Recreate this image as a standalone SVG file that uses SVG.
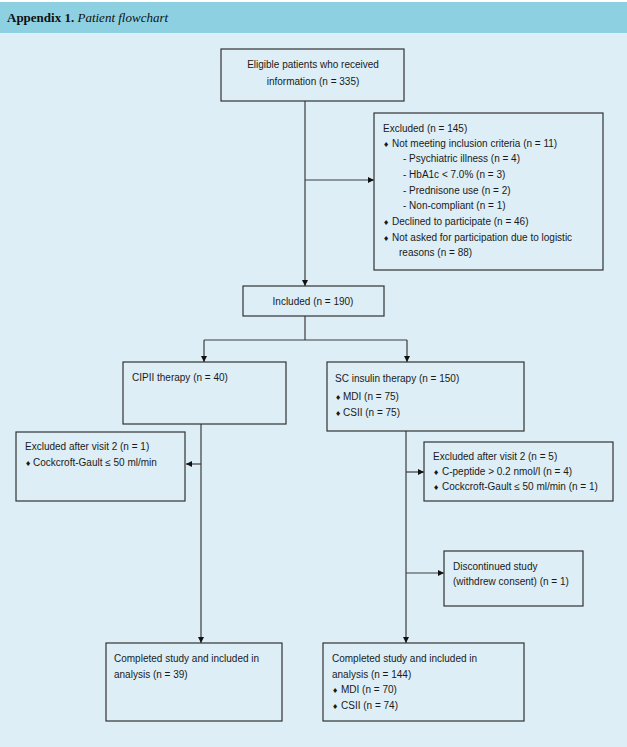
<svg xmlns="http://www.w3.org/2000/svg" width="627" height="747" viewBox="0 0 627 747">
<defs>
<style>
.box{fill:none;stroke:#333;stroke-width:1.2}
.t{font-family:"Liberation Sans",Arial,sans-serif;font-size:10px;fill:#1a1a1a}
.c{text-anchor:middle}
.b{font-family:"DejaVu Sans",sans-serif;font-size:7px}
.ln{fill:none;stroke:#3c3c3c;stroke-width:1.2}
</style>
<marker id="ah" markerWidth="6" markerHeight="6" refX="6" refY="3" orient="auto" markerUnits="userSpaceOnUse">
<path d="M0,0 L6,3 L0,6 Z" fill="#111"/>
</marker>
</defs>
<rect x="0" y="0" width="627" height="747" fill="#ddeef6"/>
<rect x="0" y="0" width="627" height="2" fill="#ffffff"/>
<rect x="0" y="2" width="627" height="31" fill="#8dd0e1"/>
<text x="7" y="22" font-family="Liberation Serif,serif" font-size="13" fill="#111"><tspan font-weight="bold">Appendix 1.</tspan> <tspan font-style="italic">Patient flowchart</tspan></text>

<g id="connectors">
<path class="ln" d="M305,101 V286" marker-end="url(#ah)"/>
<path class="ln" d="M305,180 H374" marker-end="url(#ah)"/>
<path class="ln" d="M305,316 V340 M204,340 H407"/>
<path class="ln" d="M204,340 V362" marker-end="url(#ah)"/>
<path class="ln" d="M407,340 V362" marker-end="url(#ah)"/>
<path class="ln" d="M201,424 V643" marker-end="url(#ah)"/>
<path class="ln" d="M201,464 H186" marker-end="url(#ah)"/>
<path class="ln" d="M406,431 V643" marker-end="url(#ah)"/>
<path class="ln" d="M406,472 H424" marker-end="url(#ah)"/>
<path class="ln" d="M406,573 H444" marker-end="url(#ah)"/>
</g>

<g id="eligible">
<rect class="box" x="221" y="49" width="183" height="52"/>
<text class="t c" x="313" y="68">Eligible patients who received</text>
<text class="t c" x="313" y="85">information (n = 335)</text>
</g>

<g id="excluded1">
<rect class="box" x="374" y="113" width="229" height="157"/>
<text class="t" x="383" y="132">Excluded (n = 145)</text>
<text class="t" x="383" y="147"><tspan class="b">♦</tspan><tspan x="392">Not meeting inclusion criteria (n = 11)</tspan></text>
<text class="t" x="403" y="162">- Psychiatric illness (n = 4)</text>
<text class="t" x="403" y="178">- HbA1c &lt; 7.0% (n = 3)</text>
<text class="t" x="403" y="194">- Prednisone use (n = 2)</text>
<text class="t" x="403" y="209">- Non-compliant (n = 1)</text>
<text class="t" x="383" y="225"><tspan class="b">♦</tspan><tspan x="392">Declined to participate (n = 46)</tspan></text>
<text class="t" x="383" y="241"><tspan class="b">♦</tspan><tspan x="392">Not asked for participation due to logistic</tspan></text>
<text class="t" x="399" y="256">reasons (n = 88)</text>
</g>

<g id="included">
<rect class="box" x="243" y="286" width="141" height="30"/>
<text class="t c" x="313" y="305">Included (n = 190)</text>
</g>

<g id="cipii">
<rect class="box" x="123" y="362" width="163" height="62"/>
<text class="t" x="132" y="381">CIPII therapy (n = 40)</text>
</g>

<g id="sc">
<rect class="box" x="327" y="362" width="197" height="69"/>
<text class="t" x="335" y="382">SC insulin therapy (n = 150)</text>
<text class="t" x="335" y="400"><tspan class="b">♦</tspan><tspan x="343">MDI (n = 75)</tspan></text>
<text class="t" x="335" y="416"><tspan class="b">♦</tspan><tspan x="343">CSII (n = 75)</tspan></text>
</g>

<g id="excluded-cipii">
<rect class="box" x="16" y="432" width="169" height="69"/>
<text class="t" x="25" y="450">Excluded after visit 2 (n = 1)</text>
<text class="t" x="25" y="466"><tspan class="b">♦</tspan><tspan x="33">Cockcroft-Gault ≤ 50 ml/min</tspan></text>
</g>

<g id="excluded-sc">
<rect class="box" x="424" y="442" width="189" height="59"/>
<text class="t" x="433" y="460">Excluded after visit 2 (n = 5)</text>
<text class="t" x="433" y="475"><tspan class="b">♦</tspan><tspan x="442">C-peptide &gt; 0.2 nmol/l (n = 4)</tspan></text>
<text class="t" x="433" y="490"><tspan class="b">♦</tspan><tspan x="442">Cockcroft-Gault ≤ 50 ml/min (n = 1)</tspan></text>
</g>

<g id="discontinued">
<rect class="box" x="444" y="551" width="139" height="55"/>
<text class="t" x="453" y="570">Discontinued study</text>
<text class="t" x="453" y="585">(withdrew consent) (n = 1)</text>
</g>

<g id="completed-cipii">
<rect class="box" x="106" y="643" width="176" height="78"/>
<text class="t" x="114" y="662">Completed study and included in</text>
<text class="t" x="114" y="678">analysis (n = 39)</text>
</g>

<g id="completed-sc">
<rect class="box" x="323" y="643" width="201" height="78"/>
<text class="t" x="332" y="662">Completed study and included in</text>
<text class="t" x="332" y="678">analysis (n = 144)</text>
<text class="t" x="332" y="693"><tspan class="b">♦</tspan><tspan x="341">MDI (n = 70)</tspan></text>
<text class="t" x="332" y="709"><tspan class="b">♦</tspan><tspan x="341">CSII (n = 74)</tspan></text>
</g>
</svg>
